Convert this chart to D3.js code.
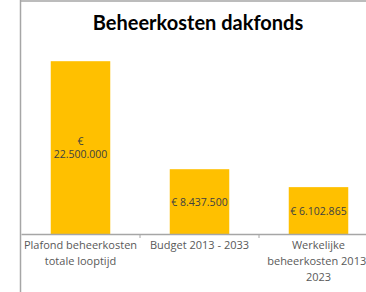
<!DOCTYPE html>
<html>
<head>
<meta charset="utf-8">
<script src="https://cdn.jsdelivr.net/npm/d3@7"></script>
<style>
    body { margin: 0; background: #fff; }
    svg { display: block; }
</style>
</head>
<body>
<div id="chart"></div>
<script>
    const title = 'Beheerkosten dakfonds';
    const categories = ['Plafond beheerkosten totale looptijd', 'Budget 2013 - 2033', 'Werkelijke beheerkosten 2013-2023'];
    const values = [22500000, 8437500, 6102865];

    const width = 366, height = 292;

    const svg = d3.select('#chart')
        .append('svg')
        .attr('width', width)
        .attr('height', height);

    const x = d3.scaleBand()
        .domain(categories)
        .range([21, 378])
        .paddingInner(0.5)
        .paddingOuter(0.25);

    const y = d3.scaleLinear()
        .domain([0, 25000000])
        .range([234, 42]);

    const fmt = v => '€ ' + d3.format(',')(v).replace(/,/g, '.');

    // chart area border (left + top visible)
    svg.append('line')
        .attr('x1', 20.5).attr('x2', 20.5)
        .attr('y1', 0).attr('y2', height)
        .attr('stroke', '#a6a6a6').attr('stroke-width', 1.5);
    svg.append('line')
        .attr('x1', 20).attr('x2', width)
        .attr('y1', 1).attr('y2', 1)
        .attr('stroke', '#a6a6a6').attr('stroke-width', 1.5);

    svg.append('text')
        .attr('x', 198)
        .attr('y', 30)
        .attr('text-anchor', 'middle')
        .style('font-family', 'Lato, "Open Sans", sans-serif')
        .style('font-weight', 'bold')
        .style('font-size', '20px')
        .style('fill', '#000')
        .text(title);

    svg.selectAll('.bar')
        .data(values)
        .enter().append('rect')
        .attr('class', 'bar')
        .attr('x', (d, i) => x(categories[i]))
        .attr('y', d => y(d))
        .attr('width', x.bandwidth())
        .attr('height', d => y(0) - y(d))
        .attr('fill', '#ffc000');

    // x axis with ticks between categories
    const axis = d3.axisBottom(x).tickSize(0).tickFormat('');
    const gx = svg.append('g')
        .attr('transform', `translate(0,${y(0)})`)
        .call(axis);
    gx.select('.domain').attr('stroke', '#a6a6a6').attr('stroke-width', 1.5);

    const bounds = categories.slice(0, -1).map(c => x(c) + x.bandwidth() + (x.step() - x.bandwidth()) / 2);
    gx.selectAll('.sep')
        .data(bounds)
        .enter().append('line')
        .attr('class', 'sep')
        .attr('x1', d => d).attr('x2', d => d)
        .attr('y1', 0).attr('y2', 4)
        .attr('stroke', '#a6a6a6');

    function wrap(textSel, str, maxW, lineH) {
        // break on spaces, and after hyphens
        const tokens = [];
        str.split(' ').forEach((w, wi) => {
            w.split(/(?<=-)/).forEach((p, pi) => tokens.push({t: p, sp: wi > 0 && pi === 0}));
        });
        const lines = [];
        let cur = '';
        const probe = textSel.append('tspan');
        tokens.forEach(tok => {
            const next = cur === '' ? tok.t : cur + (tok.sp ? ' ' : '') + tok.t;
            probe.text(next);
            if (probe.node().getComputedTextLength() > maxW && cur !== '') {
                lines.push(cur);
                cur = tok.t;
            } else {
                cur = next;
            }
        });
        lines.push(cur);
        probe.remove();
        lines.forEach((l, i) => {
            textSel.append('tspan')
                .attr('x', textSel.attr('x'))
                .attr('dy', i === 0 ? 0 : lineH)
                .text(l);
        });
        return lines.length;
    }

    // category labels
    categories.forEach(c => {
        const t = svg.append('text')
            .attr('x', x(c) + x.bandwidth() / 2)
            .attr('y', 249)
            .attr('text-anchor', 'middle')
            .style('font-family', '"Open Sans", sans-serif')
            .style('font-size', '11px')
            .style('fill', '#595959');
        wrap(t, c, 118, 16);
    });

    // value labels inside bars
    values.forEach((v, i) => {
        const cx = x(categories[i]) + x.bandwidth() / 2;
        const cy = (y(v) + y(0)) / 2;
        const t = svg.append('text')
            .attr('x', cx)
            .attr('text-anchor', 'middle')
            .style('font-family', '"Open Sans", sans-serif')
            .style('font-size', '10.5px')
            .style('fill', '#404040');
        const n = wrap(t, fmt(v), x.bandwidth() + 2, 12.5);
        t.attr('y', cy + 4 - (n - 1) * 12.5 / 2);
    });
</script>
</body>
</html>
